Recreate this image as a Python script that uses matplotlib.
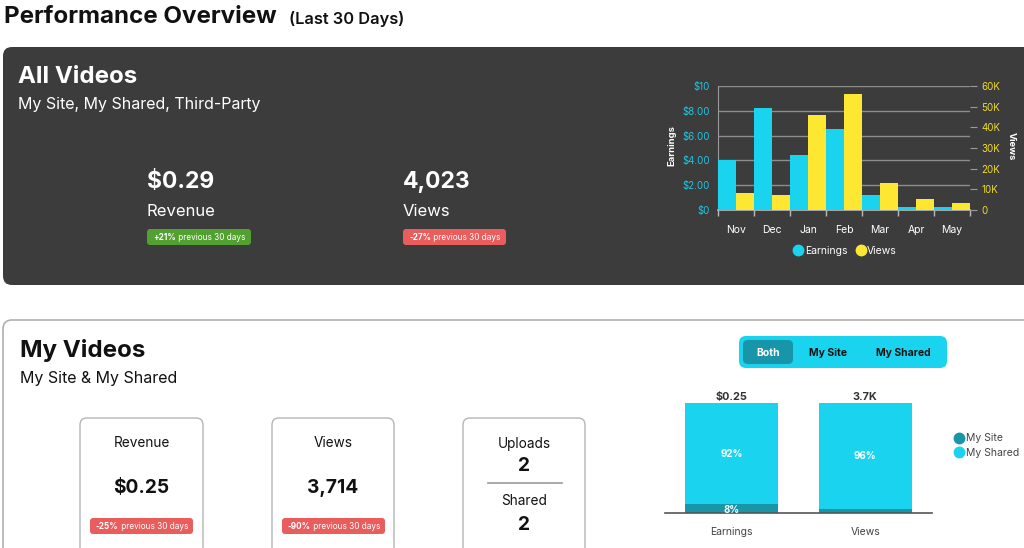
import matplotlib
matplotlib.use("Agg")
import matplotlib.pyplot as plt
from matplotlib.patches import FancyBboxPatch
from matplotlib.lines import Line2D
import numpy as np

plt.rcParams['font.family'] = ['Inter', 'DejaVu Sans']

# ---------------- data ----------------
months = ["Nov", "Dec", "Jan", "Feb", "Mar", "Apr", "May"]
earnings = [4.02, 8.23, 4.40, 6.51, 1.22, 0.21, 0.27]
views = [8200, 7400, 46200, 56000, 13300, 5100, 3500]
earn_ticks = [0, 2, 4, 6, 8, 10]
earn_tick_labels = ["$0", "$2.00", "$4.00", "$6.00", "$8.00", "$10"]
view_ticks = [0, 10000, 20000, 30000, 40000, 50000, 60000]
view_tick_labels = ["0", "10K", "20K", "30K", "40K", "50K", "60K"]

split_categories = ["Earnings", "Views"]
my_site_pct = [8, 4]
my_shared_pct = [92, 96]
split_totals = ["$0.25", "3.7K"]

all_revenue = "$0.29"
all_views = "4,023"
all_rev_change = "+21%"
all_views_change = "-27%"
my_revenue = "$0.25"
my_views = "3,714"
my_rev_change = "-25%"
my_views_change = "-90%"
uploads = "2"
shared = "2"

CYAN = "#19d3ef"
YELLOW = "#fde733"
TEAL = "#1895a8"
DARK = "#3c3c3c"
GREEN = "#52a030"
RED = "#e95d5d"

W, H = 1024, 548
fig = plt.figure(figsize=(W / 100, H / 100), dpi=100)
fig.patch.set_facecolor("white")
bg = fig.add_axes([0, 0, 1, 1])
bg.set_xlim(0, W)
bg.set_ylim(H, 0)
bg.axis("off")


def rbox(x0, y0, x1, y1, r, fc, ec="none", lw=0, z=1):
    p = FancyBboxPatch((x0, y0), x1 - x0, y1 - y0,
                       boxstyle=f"round,pad=0,rounding_size={r}",
                       fc=fc, ec=ec, lw=lw, zorder=z)
    bg.add_patch(p)
    return p


def txt(x, y, s, size, color="black", weight="normal", ha="left", va="center", **kw):
    return bg.text(x, y, s, fontsize=size, color=color, fontweight=weight,
                   ha=ha, va=va, **kw)


def badge(x0, y0, x1, y1, fc, pct):
    rbox(x0, y0, x1, y1, 3, fc, z=2)
    t1 = bg.text(x0 + 6, (y0 + y1) / 2 + 0.5, pct, fontsize=5.9, color="white",
                 fontweight="bold", ha="left", va="center", zorder=3)
    bg.annotate(" previous 30 days", xy=(1, 0.5), xycoords=t1, xytext=(0, 0),
                textcoords="offset points", fontsize=5.9, color="white",
                ha="left", va="center", zorder=3)


# ---------------- header ----------------
txt(4, 17, "Performance Overview", 17.4, "#111111", "bold")
txt(289, 19, "(Last 30 Days)", 11.8, "#111111", "semibold")

# ---------------- All videos panel ----------------
rbox(3, 47, 1040, 285, 9, DARK)
txt(18, 77, "All Videos", 17.3, "white", "bold")
txt(18, 104, "My Site, My Shared, Third-Party", 11.5, "white")

txt(147, 182, all_revenue, 16.5, "white", "bold")
txt(147, 211, "Revenue", 12, "white")
badge(147, 229, 251, 245, GREEN, all_rev_change)

txt(403, 182, all_views, 16.5, "white", "bold")
txt(403, 211, "Views", 12, "white")
badge(403, 229, 506, 245, RED, all_views_change)

# top chart
L, R, T, B = 718, 970, 86, 210
ax = fig.add_axes([L / W, 1 - B / H, (R - L) / W, (B - T) / H])
ax.set_facecolor("none")
x = np.arange(len(months))
ax.bar(x - 0.25, earnings, width=0.5, color=CYAN, zorder=3)
ax.set_ylim(0, 10)
ax.set_xlim(-0.5, len(months) - 0.5)
ax.set_yticks(earn_ticks)
ax.set_yticklabels(earn_tick_labels)
ax.tick_params(axis="y", length=0, pad=6, labelsize=7, labelcolor="#1fc5e2")
ax.set_xticks(x)
ax.set_xticklabels(months)
ax.tick_params(axis="x", which="major", length=0, pad=11, labelsize=7.5, labelcolor="white")
ax.set_xticks(np.arange(-0.5, len(months), 1), minor=True)
ax.tick_params(axis="x", which="minor", length=4, color="#bbbbbb", width=1)
for yv in earn_ticks[1:]:
    ax.axhline(yv, color="#8d8d8d", lw=1, zorder=1)
for s in ["top", "right"]:
    ax.spines[s].set_visible(False)
ax.spines["left"].set_color("#9a9a9a")
ax.spines["bottom"].set_color("#bbbbbb")
ax.spines["bottom"].set_linewidth(1.2)

ax2 = ax.twinx()
ax2.bar(x + 0.25, views, width=0.5, color=YELLOW, zorder=3)
ax2.set_ylim(0, 60000)
ax2.set_yticks(view_ticks)
ax2.set_yticklabels(view_tick_labels)
ax2.tick_params(axis="y", length=5, color="#9a9a9a", pad=3, labelsize=7, labelcolor="#f0dc2c")
for s in ["top", "right", "left", "bottom"]:
    ax2.spines[s].set_visible(False)

txt(672, 146, "Earnings", 6.8, "white", "bold", ha="center", rotation=90)
txt(1011, 146, "Views", 6.8, "white", "bold", ha="center", rotation=-90)

handles = [Line2D([], [], marker="o", ls="none", color=CYAN, markersize=7.5),
           Line2D([], [], marker="o", ls="none", color=YELLOW, markersize=7.5)]
fig.legend(handles, ["Earnings", "Views"], loc="center", ncol=2,
           bbox_to_anchor=(845 / W, 1 - 251 / H), frameon=False, fontsize=7.5,
           labelcolor="white", handletextpad=0.1, columnspacing=0.8,
           handlelength=1.0)

# ---------------- My videos panel ----------------
rbox(3, 320, 1040, 600, 9, "white", ec="#b0b0b0", lw=1.2)
txt(20, 351, "My Videos", 17.4, "#111111", "bold")
txt(20, 379, "My Site & My Shared", 11.5, "#111111")

cards = [(80, 203), (272, 394), (463, 585)]
for (c0, c1) in cards:
    rbox(c0, 418, c1, 600, 7, "white", ec="#b5b5b5", lw=1)

cx = (80 + 203) / 2
txt(cx, 443, "Revenue", 9.8, "#111111", ha="center")
txt(cx, 488, my_revenue, 13.8, "#111111", "bold", ha="center")
badge(90, 518, 193, 534, RED, my_rev_change)

cx = (272 + 394) / 2
txt(cx, 443, "Views", 9.8, "#111111", ha="center")
txt(cx, 488, my_views, 13.8, "#111111", "bold", ha="center")
badge(282, 518, 385, 534, RED, my_views_change)

cx = (463 + 585) / 2
txt(cx, 444, "Uploads", 9.8, "#111111", ha="center")
txt(cx, 466, uploads, 13.8, "#111111", "bold", ha="center")
bg.plot([488, 562], [483, 483], color="#999999", lw=1.2)
txt(cx, 501, "Shared", 9.8, "#111111", ha="center")
txt(cx, 525, shared, 13.8, "#111111", "bold", ha="center")

# toggle
rbox(739, 336, 947, 368, 7, CYAN, z=2)
rbox(743, 340, 793, 364, 5, TEAL, z=3)
txt(768, 352.5, "Both", 7.5, "white", "bold", ha="center", zorder=4)
txt(828, 352.5, "My Site", 7.5, "#111111", "bold", ha="center", zorder=4)
txt(903, 352.5, "My Shared", 7.5, "#111111", "bold", ha="center", zorder=4)

# bottom chart
L2, R2, T2, B2 = 665, 932, 403, 513
bx = fig.add_axes([L2 / W, 1 - B2 / H, (R2 - L2) / W, (B2 - T2) / H])
bx.set_facecolor("none")
xs = np.arange(len(split_categories))
bx.bar(xs, my_site_pct, width=0.695, color=TEAL, zorder=2)
bx.bar(xs, my_shared_pct, width=0.695, bottom=my_site_pct, color=CYAN, zorder=2)
bx.set_xlim(-0.5, 1.5)
bx.set_ylim(0, 100)
bx.set_yticks([])
bx.set_xticks(xs)
bx.set_xticklabels(split_categories)
bx.tick_params(axis="x", length=0, pad=10, labelsize=7.5, labelcolor="#444444")
for s in ["top", "right", "left"]:
    bx.spines[s].set_visible(False)
bx.spines["bottom"].set_color("#555555")
bx.spines["bottom"].set_linewidth(1.2)
bx.spines["bottom"].set_zorder(3)
for i in range(len(xs)):
    tot = my_site_pct[i] + my_shared_pct[i]
    bx.annotate(split_totals[i], xy=(xs[i], tot), xytext=(0, 1),
                textcoords="offset points", ha="center", va="bottom",
                fontsize=7.8, fontweight="bold", color="#333333", annotation_clip=False)
    bx.text(xs[i], my_site_pct[i] + my_shared_pct[i] / 2, f"{my_shared_pct[i]}%",
            ha="center", va="center", fontsize=7, fontweight="bold", color="white", zorder=4)
    if my_site_pct[i] >= 5:
        bx.text(xs[i], my_site_pct[i] / 2 - 1.5, f"{my_site_pct[i]}%",
                ha="center", va="center", fontsize=7, fontweight="bold", color="white", zorder=4)

handles2 = [Line2D([], [], marker="o", ls="none", color=TEAL, markersize=7.5),
            Line2D([], [], marker="o", ls="none", color=CYAN, markersize=7.5)]
fig.legend(handles2, ["My Site", "My Shared"], loc="upper left", ncol=1,
           bbox_to_anchor=(949 / W, 1 - 428 / H), frameon=False, fontsize=7.5,
           labelcolor="#444444", handletextpad=0.1, handlelength=1.0,
           labelspacing=0.45, borderpad=0)

fig.savefig("out.png", dpi=100, facecolor="white")
